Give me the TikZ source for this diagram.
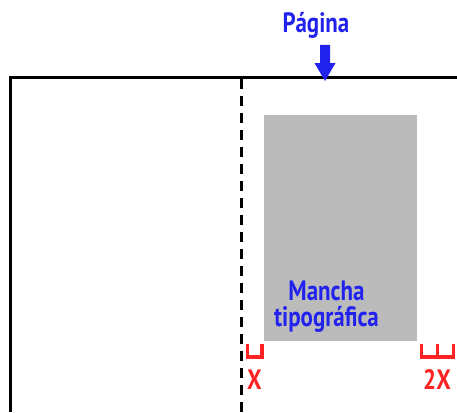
\documentclass[tikz,border=0pt]{standalone}
\usepackage{fontspec}
\newfontfamily\condfont[FakeStretch=0.82]{PT Sans}
\definecolor{lblue}{HTML}{2222EE}
\definecolor{lred}{HTML}{FF2222}
\definecolor{mgray}{HTML}{BBBBBB}
\begin{document}
\begin{tikzpicture}[x=1pt,y=-1pt,
  blue label/.style={text=lblue,font=\condfont\bfseries\fontsize{28}{23}\selectfont,inner sep=0pt},
  red label/.style={text=lred,font=\condfont\bfseries\fontsize{28}{23}\selectfont,inner sep=0pt},
  pageline/.style={line width=3.5pt,black},
  bracket/.style={line width=3.5pt,lred}]
\useasboundingbox (0,0) rectangle (457,412);
% page
\draw[pageline] (10.5,412) -- (10.5,77.5) -- (460,77.5);
% dashed margin line
\draw[line width=3pt,dash pattern=on 10pt off 7pt] (241,79) -- (241,412);
% mancha
\node[fill=mgray,minimum width=153pt,minimum height=226pt,inner sep=0pt,anchor=north west] (mancha) at (264,115) {};
\node[blue label,align=center,font=\condfont\bfseries\fontsize{28}{26}\selectfont] (mtext) at (326.5,307) {Mancha\\tipográfica};
% title
\node[blue label,anchor=base] (pagina) at (316,33) {Página};
\fill[lblue] (320,45) -- (330,45) -- (330,63) -- (335.5,63) -- (325,81) -- (314.5,63) -- (320,63) -- cycle;
% brackets
\draw[bracket] (247.5,344) -- (247.5,357) -- (262,357) -- (262,344);
\draw[bracket] (421.5,344) -- (421.5,357) -- (453.5,357) -- (453.5,344);
\draw[bracket] (437.5,344) -- (437.5,357);
\node[red label,anchor=base] (x1) at (254.5,389) {X};
\node[red label,anchor=base] (x2) at (437,389) {2X};
\end{tikzpicture}
\end{document}
